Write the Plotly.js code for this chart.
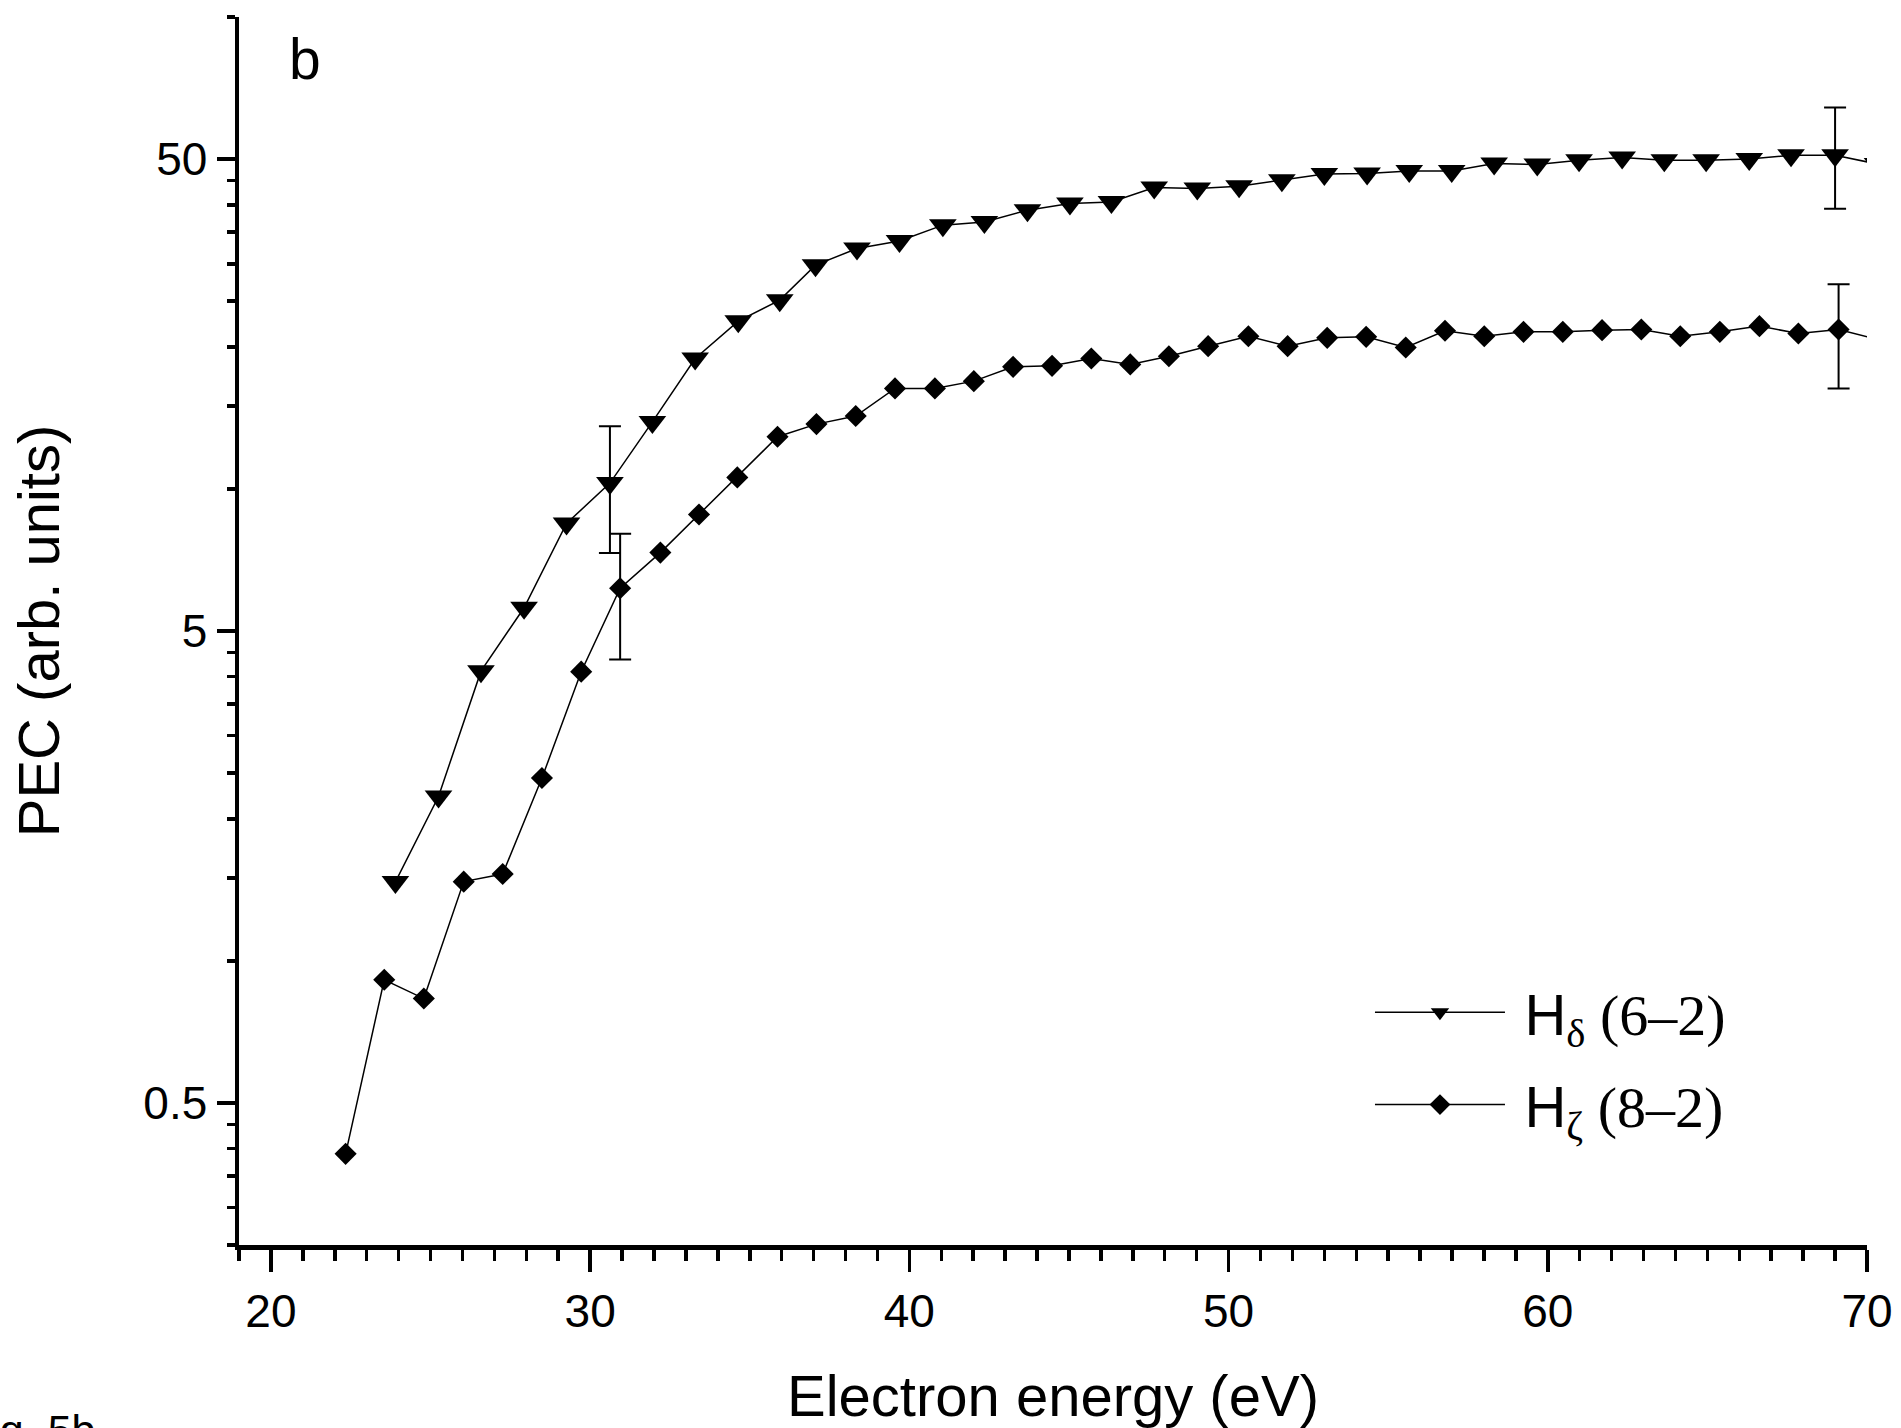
<!DOCTYPE html>
<html>
<head>
<meta charset="utf-8">
<script src="https://cdn.plot.ly/plotly-3.0.1.min.js"></script>
<style>html,body{margin:0;padding:0;background:#fff;}#chart{width:1901px;height:1428px;}</style>
</head>
<body>
<div id="chart"></div>
<script>
// ---- data ----
var energyDelta = [23.90, 25.25, 26.58, 27.93, 29.26, 30.62, 31.95, 33.29, 34.64, 35.94, 37.06, 38.36, 39.69, 41.05, 42.35, 43.70, 45.03, 46.33, 47.67, 49.02, 50.33, 51.67, 53.00, 54.34, 55.66, 56.99, 58.32, 59.67, 60.98, 62.33, 63.65, 64.96, 66.31, 67.62, 69.00, 70.33];
var pecDelta = [1.47, 2.23, 4.11, 5.60, 8.45, 10.29, 13.87, 18.90, 22.67, 25.12, 29.80, 32.32, 33.54, 36.22, 36.80, 38.96, 40.25, 40.56, 43.51, 43.30, 43.79, 45.09, 46.47, 46.60, 47.19, 47.19, 48.93, 48.70, 49.70, 50.37, 49.70, 49.70, 50.00, 50.93, 50.93, 48.80];
var errDeltaPlus  = [null, null, null, null, null, 3.29, null, null, null, null, null, null, null, null, null, null, null, null, null, null, null, null, null, null, null, null, null, null, null, null, null, null, null, null, 13.4, null];
var errDeltaMinus = [null, null, null, null, null, 2.97, null, null, null, null, null, null, null, null, null, null, null, null, null, null, null, null, null, null, null, null, null, null, null, null, null, null, null, null, 11.7, null];

var energyZeta = [22.34, 23.55, 24.79, 26.04, 27.26, 28.49, 29.72, 30.94, 32.20, 33.41, 34.61, 35.87, 37.09, 38.32, 39.55, 40.80, 42.02, 43.25, 44.47, 45.70, 46.92, 48.13, 49.36, 50.62, 51.85, 53.09, 54.31, 55.55, 56.78, 58.01, 59.24, 60.47, 61.70, 62.93, 64.15, 65.39, 66.63, 67.85, 69.11, 70.34];
var pecZeta = [0.390, 0.912, 0.832, 1.472, 1.528, 2.44, 4.10, 6.16, 7.33, 8.83, 10.58, 12.90, 13.72, 14.27, 16.33, 16.33, 16.92, 18.14, 18.23, 18.90, 18.36, 19.11, 20.07, 21.07, 20.07, 20.90, 21.00, 19.94, 21.63, 21.07, 21.52, 21.52, 21.70, 21.77, 21.07, 21.52, 22.13, 21.35, 21.77, 20.72];
var errZetaPlus  = [null, null, null, null, null, null, null, 1.88, null, null, null, null, null, null, null, null, null, null, null, null, null, null, null, null, null, null, null, null, null, null, null, null, null, null, null, null, null, null, 5.39, null];
var errZetaMinus = [null, null, null, null, null, null, null, 1.81, null, null, null, null, null, null, null, null, null, null, null, null, null, null, null, null, null, null, null, null, null, null, null, null, null, null, null, null, null, null, 5.44, null];

var xTickVals = [20, 30, 40, 50, 60, 70];
var xTickText = ['20', '30', '40', '50', '60', '70'];
var yTickVals = [0.5, 5, 50];
var yTickText = ['0.5', '5', '50'];
var yMinorVals = [0.25, 0.3, 0.35, 0.4, 0.45, 1, 1.5, 2, 2.5, 3, 3.5, 4, 4.5, 10, 15, 20, 25, 30, 35, 40, 45, 100];

var nameDelta = ' <span style="font-family:Liberation Sans">H</span><sub>δ</sub> (6–2)';
var nameZeta = ' <span style="font-family:Liberation Sans">H</span><sub>ζ</sub> (8–2)';

function toNaN(a) { return a.map(function (v) { return v === null ? NaN : v; }); }

var traces = [
  {
    x: energyDelta, y: pecDelta, name: nameDelta, legendgroup: 'd',
    type: 'scatter', mode: 'lines+markers',
    line: {color: '#000', width: 1.5},
    marker: {symbol: 'triangle-down', size: 24, color: '#000'},
    error_y: {type: 'data', symmetric: false, array: toNaN(errDeltaPlus), arrayminus: toNaN(errDeltaMinus),
              color: '#000', thickness: 2, width: 11, visible: true}
  },
  {
    x: energyZeta, y: pecZeta, name: nameZeta, legendgroup: 'z',
    type: 'scatter', mode: 'lines+markers',
    line: {color: '#000', width: 1.5},
    marker: {symbol: 'diamond', size: 17, color: '#000'},
    error_y: {type: 'data', symmetric: false, array: toNaN(errZetaPlus), arrayminus: toNaN(errZetaMinus),
              color: '#000', thickness: 2, width: 11, visible: true}
  }
];

var axisFont = {family: 'Liberation Sans, Arial, sans-serif', size: 46, color: '#000'};

var layout = {
  width: 1901, height: 1428,
  margin: {l: 239, r: 34, t: 17, b: 183, pad: 0},
  paper_bgcolor: '#fff', plot_bgcolor: '#fff',
  font: {family: 'Liberation Sans, Arial, sans-serif', color: '#000'},
  showlegend: true,
  legend: {
    x: 0.6947, y: 0.2256, xanchor: 'left', yanchor: 'top',
    bgcolor: 'rgba(0,0,0,0)', borderwidth: 0,
    font: {family: 'Liberation Serif, Times New Roman, serif', size: 58, color: '#000'},
    itemwidth: 130, tracegroupgap: 14, traceorder: 'grouped'
  },
  xaxis: {
    range: [19, 70], showgrid: false, zeroline: false,
    showline: true, linecolor: '#000', linewidth: 4.5, mirror: false,
    tickmode: 'array', tickvals: xTickVals, ticktext: xTickText,
    ticks: 'outside', ticklen: 22, tickwidth: 3.5, tickcolor: '#000',
    tickfont: axisFont,
    minor: {ticks: 'outside', ticklen: 11, tickwidth: 3.5, tickcolor: '#000', tickmode: 'linear', tick0: 0, dtick: 1, showgrid: false},
    title: {text: 'Electron energy (eV)', font: {family: 'Liberation Sans, Arial, sans-serif', size: 58, color: '#000'}, standoff: 44}
  },
  yaxis: {
    type: 'log', range: [Math.log10(0.25), 2], showgrid: false, zeroline: false,
    showline: true, linecolor: '#000', linewidth: 4.5, mirror: false,
    tickmode: 'array', tickvals: yTickVals, ticktext: yTickText,
    ticks: 'outside', ticklen: 18, tickwidth: 3.5, tickcolor: '#000',
    tickfont: axisFont,
    minor: {ticks: 'outside', ticklen: 8, tickwidth: 3.5, tickcolor: '#000', tickmode: 'array', tickvals: yMinorVals, showgrid: false},
    title: {text: 'PEC (arb. units)', font: {family: 'Liberation Sans, Arial, sans-serif', size: 58, color: '#000'}, standoff: 66}
  },
  annotations: [
    {text: 'b', xref: 'paper', yref: 'paper', x: 0.0295, y: 0.9931, xanchor: 'left', yanchor: 'top',
     showarrow: false, font: {family: 'Liberation Sans, Arial, sans-serif', size: 57, color: '#000'}},
    {text: 'Fig. 5b', xref: 'paper', yref: 'paper', x: -0.0872, y: -0.1295, xanchor: 'right', yanchor: 'top',
     showarrow: false, font: {family: 'Liberation Sans, Arial, sans-serif', size: 43, color: '#000'}}
  ]
};

Plotly.newPlot('chart', traces, layout, {staticPlot: true, displayModeBar: false});
</script>
</body>
</html>
